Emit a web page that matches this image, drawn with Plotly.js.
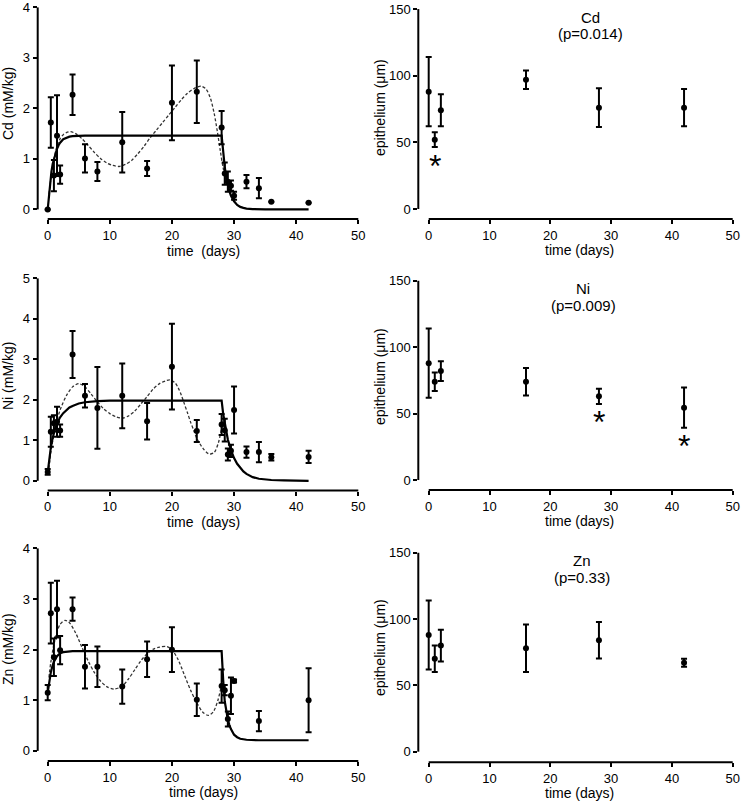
<!DOCTYPE html>
<html><head><meta charset="utf-8">
<script src="https://cdn.plot.ly/plotly-3.0.1.min.js"></script>
<style>html,body{margin:0;padding:0;background:#fff}#chart{width:742px;height:801px}</style>
</head><body><div id="chart"></div>
<script>
// ---------- data: tissue metal concentration (mM/kg) ----------
const cdT   = [0, 0.5, 1, 1.5, 2, 4, 6, 8, 12, 16, 20, 24, 28, 28.5, 29, 29.5, 30, 32, 34, 36, 42];
const cdVal = [0, 1.72, 0.67, 1.46, 0.69, 2.27, 1.01, 0.75, 1.33, 0.81, 2.11, 2.33, 1.62, 0.71, 0.55, 0.47, 0.27, 0.55, 0.42, 0.15, 0.13];
const cdErr = [0, 0.5, 0.31, 0.8, 0.18, 0.4, 0.28, 0.19, 0.6, 0.15, 0.74, 0.62, 0.33, 0.22, 0.2, 0.1, 0.08, 0.13, 0.2, 0, 0];
const cdFitT = [0, 0.2, 0.4, 0.6, 0.8, 1, 1.25, 1.5, 1.75, 2, 2.5, 3, 3.5, 4, 5, 6, 28, 28.15, 28.3, 28.5, 28.75, 29, 29.25, 29.5, 29.75, 30, 30.5, 31, 31.5, 32, 33, 35, 42];
const cdFitY = [0, 0.31, 0.56, 0.75, 0.9, 1.0, 1.11, 1.2, 1.27, 1.32, 1.39, 1.42, 1.44, 1.45, 1.46, 1.46, 1.46, 1.25, 1.06, 0.84, 0.63, 0.47, 0.36, 0.27, 0.21, 0.16, 0.09, 0.05, 0.03, 0.015, 0.005, 0, 0];
const cdDashT = [0.2, 0.5, 1, 1.5, 2, 2.5, 3, 3.7, 4.5, 5.5, 6.5, 7.5, 8.5, 9.5, 10.5, 11.5, 12.5, 13.5, 14.5, 15.5, 16.5, 17.5, 18.5, 19.5, 20.5, 21.5, 22.5, 23.5, 24.7, 25.5, 26.2, 26.8, 27.3, 27.8, 28.2, 28.6, 29];
const cdDashY = [0.3, 0.6, 1.0, 1.25, 1.4, 1.48, 1.52, 1.54, 1.5, 1.4, 1.27, 1.13, 1.01, 0.92, 0.87, 0.85, 0.89, 0.97, 1.1, 1.25, 1.42, 1.57, 1.72, 1.87, 2.02, 2.17, 2.3, 2.39, 2.44, 2.38, 2.2, 1.9, 1.55, 1.15, 0.85, 0.62, 0.48];

const niT   = [0, 0.5, 1, 1.5, 2, 4, 6, 8, 12, 16, 20, 24, 28, 28.5, 29, 29.5, 30, 32, 34, 36, 42];
const niVal = [0.22, 1.21, 1.42, 1.46, 1.24, 3.12, 2.1, 1.8, 2.1, 1.47, 2.82, 1.23, 1.39, 1.25, 0.65, 0.74, 1.75, 0.71, 0.71, 0.58, 0.59];
const niErr = [0.07, 0.37, 0.2, 0.37, 0.15, 0.58, 0.29, 1.01, 0.8, 0.45, 1.06, 0.27, 0.26, 0.28, 0.15, 0.15, 0.58, 0.14, 0.25, 0.08, 0.15];
const niFitT = [0, 0.25, 0.5, 0.75, 1, 1.5, 2, 2.5, 3, 3.5, 4, 5, 6, 7, 8, 10, 28, 28.25, 28.5, 28.75, 29, 29.5, 30, 30.5, 31, 31.5, 32, 33, 34, 35, 36, 38, 42];
const niFitY = [0.2, 0.55, 0.82, 1.02, 1.18, 1.42, 1.57, 1.67, 1.75, 1.81, 1.85, 1.91, 1.94, 1.96, 1.97, 1.98, 1.98, 1.65, 1.4, 1.2, 1.02, 0.76, 0.56, 0.42, 0.31, 0.23, 0.17, 0.09, 0.05, 0.03, 0.02, 0.01, 0];
const niDashT = [0.2, 0.5, 1, 1.5, 2, 3, 4, 5, 6, 7, 8, 9, 10, 11, 12, 13, 14, 15, 16, 17, 18, 19, 19.7, 20.5, 21, 21.5, 22, 22.5, 23, 23.5, 24, 25, 26, 26.8, 27.5, 28, 28.3];
const niDashY = [0.3, 0.7, 1.15, 1.5, 1.75, 2.1, 2.32, 2.4, 2.32, 2.14, 1.95, 1.78, 1.66, 1.58, 1.55, 1.6, 1.72, 1.9, 2.08, 2.27, 2.4, 2.47, 2.49, 2.42, 2.3, 2.12, 1.9, 1.68, 1.45, 1.25, 1.05, 0.8, 0.66, 0.7, 0.95, 1.3, 1.5];

const znT   = [0, 0.5, 1, 1.5, 2, 4, 6, 8, 12, 16, 20, 24, 28, 28.5, 29, 29.5, 30, 34, 42];
const znVal = [1.15, 2.72, 1.85, 2.8, 1.99, 2.8, 1.66, 1.66, 1.27, 1.81, 2.0, 1.01, 1.28, 1.2, 0.63, 1.09, 1.38, 0.59, 1.0];
const znErr = [0.15, 0.6, 0.37, 0.56, 0.28, 0.23, 0.43, 0.4, 0.34, 0.35, 0.44, 0.32, 0.33, 0.1, 0.15, 0.36, 0.03, 0.2, 0.63];
const znFitT = [0, 0.25, 0.5, 0.75, 1, 1.5, 2, 2.5, 3, 4, 28, 28.1, 28.25, 28.5, 28.75, 29, 29.25, 29.5, 30, 30.5, 31, 32, 34, 42];
const znFitY = [1.15, 1.38, 1.55, 1.67, 1.76, 1.87, 1.93, 1.95, 1.96, 1.97, 1.97, 1.7, 1.4, 0.98, 0.78, 0.62, 0.51, 0.43, 0.32, 0.27, 0.24, 0.22, 0.21, 0.21];
const znDashT = [0.2, 0.5, 1, 1.5, 2, 2.8, 3.5, 4.5, 5.5, 6.5, 7.5, 8.5, 9.5, 10.7, 12, 13, 14, 15, 16, 17, 18, 19.2, 20, 21, 22, 23, 24, 25, 25.9, 26.7, 27.4, 28, 28.3];
const znDashY = [1.45, 1.75, 2.1, 2.35, 2.5, 2.58, 2.53, 2.33, 2.05, 1.78, 1.55, 1.38, 1.27, 1.22, 1.28, 1.42, 1.6, 1.78, 1.92, 2.01, 2.05, 2.06, 2.0, 1.8, 1.5, 1.2, 0.95, 0.76, 0.7, 0.78, 1.0, 1.3, 1.45];

// ---------- data: epithelium thickness (µm) ----------
const epiT = [0, 1, 2, 16, 28, 42];
const epiCd = [88, 52, 74, 97, 76, 76];
const epiCdErr = [26, 5.5, 12, 7, 14.5, 14];
const epiNi = [88, 74, 82, 74, 63, 54.5];
const epiNiErr = [26, 7, 7.5, 10.3, 5.7, 15.2];
const epiZn = [88, 70, 80, 78, 84, 67];
const epiZnErr = [26, 10, 12, 18, 13.8, 3];

const starCdX = [1], starCdY = [38];
const starNiX = [28, 42], starNiY = [49.7, 31.4];

const metalNames = ['Cd', 'Ni', 'Zn'];
const pLabels = ['(p=0.014)', '(p=0.009)', '(p=0.33)'];
const leftYTitles = ['Cd (mM/kg)', 'Ni (mM/kg)', 'Zn (mM/kg)'];
const leftXTitles = ['time\u00a0 (days)', 'time\u00a0 (days)', 'time (days)'];
const rightXTitle = 'time (days)';
const rightYTitle = 'epithelium (\u03bcm)';
const leftYMax = [4, 5, 4];

// ---------- layout geometry (pixels) ----------
const W = 742, H = 801;
const FONT = 'Liberation Sans, Arial, sans-serif';
const leftXDom = [37.7 / W, 358.3 / W], rightXDom = [418.3 / W, 732.7 / W];
const leftXR = [-1.61, 50.001], rightXR = [-1.71, 50.001];
const rows = [
  {lt: 7.3, lb: 219, rt: 9, rb: 219, lymin: -0.19, rymin: -7.5, lxt: 251, rxt: 250, lyc: 104, ryc: 108, pTitle: 590},
  {lt: 278.3, lb: 490.5, rt: 280.7, rb: 490, lymin: -0.24, rymin: -7.5, lxt: 522, rxt: 521, lyc: 376, ryc: 377, pTitle: 583},
  {lt: 548.3, lb: 761, rt: 552.7, rb: 762.3, lymin: -0.2, rymin: -8, lxt: 792, rxt: 793, lyc: 649, ryc: 648, pTitle: 582}
];

const layout = {
  width: W, height: H, margin: {l: 0, r: 0, t: 0, b: 0},
  paper_bgcolor: '#fff', plot_bgcolor: '#fff', showlegend: false,
  font: {family: FONT, size: 13, color: '#000'},
  shapes: [], annotations: []
};

function axCommon() {
  return {showgrid: false, zeroline: false, showline: false, ticks: 'outside', ticklen: 4, tickwidth: 2,
          tickcolor: '#000', tickfont: {family: FONT, size: 13, color: '#000'}, fixedrange: true,
          ticklabeloverflow: 'allow'};
}
function pmap(v, r, d) { return d[0] + (v - r[0]) / (r[1] - r[0]) * (d[1] - d[0]); }
function addAxisLines(xr, xd, yr, yd, ytop) {
  const yb = yd[0], xl = xd[0];
  layout.shapes.push({type: 'line', xref: 'paper', yref: 'paper', x0: pmap(0, xr, xd), x1: pmap(50, xr, xd), y0: yb, y1: yb, line: {color: '#000', width: 2}});
  layout.shapes.push({type: 'line', xref: 'paper', yref: 'paper', x0: xl, x1: xl, y0: pmap(0, yr, yd), y1: pmap(ytop, yr, yd), line: {color: '#000', width: 2}});
}
function textAt(px, py, txt, size, angle) {
  layout.annotations.push({xref: 'paper', yref: 'paper', x: px / W, y: 1 - py / H, text: txt, showarrow: false,
    xanchor: 'center', yanchor: 'middle', textangle: angle || 0, borderpad: 0,
    font: {family: FONT, size: size, color: '#000'}});
}

const traces = [];
const leftData = [
  {t: cdT, v: cdVal, e: cdErr, ft: cdFitT, fy: cdFitY, dt: cdDashT, dy: cdDashY},
  {t: niT, v: niVal, e: niErr, ft: niFitT, fy: niFitY, dt: niDashT, dy: niDashY},
  {t: znT, v: znVal, e: znErr, ft: znFitT, fy: znFitY, dt: znDashT, dy: znDashY}
];
const rightData = [
  {v: epiCd, e: epiCdErr, sx: starCdX, sy: starCdY},
  {v: epiNi, e: epiNiErr, sx: starNiX, sy: starNiY},
  {v: epiZn, e: epiZnErr, sx: [], sy: []}
];

rows.forEach((r, i) => {
  const lx = 'x' + (2 * i + 1), ly = 'y' + (2 * i + 1);
  const rx = 'x' + (2 * i + 2), ry = 'y' + (2 * i + 2);
  const lyd = [1 - r.lb / H, 1 - r.lt / H], ryd = [1 - r.rb / H, 1 - r.rt / H];
  const lyr = [r.lymin, leftYMax[i] * 1.0005], ryr = [r.rymin, 150.05];

  layout['xaxis' + (2 * i + 1)] = Object.assign(axCommon(), {domain: leftXDom, range: leftXR, anchor: ly, tick0: 0, dtick: 10});
  layout['yaxis' + (2 * i + 1)] = Object.assign(axCommon(), {domain: lyd, range: lyr, anchor: lx, tick0: 0, dtick: 1});
  layout['xaxis' + (2 * i + 2)] = Object.assign(axCommon(), {domain: rightXDom, range: rightXR, anchor: ry, tick0: 0, dtick: 10});
  layout['yaxis' + (2 * i + 2)] = Object.assign(axCommon(), {domain: ryd, range: ryr, anchor: rx, tick0: 0, dtick: 50});

  addAxisLines(leftXR, leftXDom, lyr, lyd, leftYMax[i]);
  addAxisLines(rightXR, rightXDom, ryr, ryd, 150);

  // axis titles
  textAt(203, r.lxt, leftXTitles[i], 14, 0);
  textAt(579, r.rxt, rightXTitle, 14, 0);
  textAt(8, r.lyc, leftYTitles[i], 14, -90);
  textAt(380, r.ryc, rightYTitle, 14, -90);
  // panel titles
  textAt(r.pTitle, r.rt + 8, metalNames[i], 15, 0);
  textAt(r.pTitle, r.rt + 24.5, pLabels[i], 15, 0);

  const d = leftData[i];
  traces.push({x: d.dt, y: d.dy, xaxis: lx, yaxis: ly, mode: 'lines', type: 'scatter',
    line: {color: '#333', width: 1.3, dash: '3px,2px', shape: 'spline', smoothing: 0.8}, hoverinfo: 'skip'});
  traces.push({x: d.ft, y: d.fy, xaxis: lx, yaxis: ly, mode: 'lines', type: 'scatter',
    line: {color: '#000', width: 2.2, shape: 'linear'}, hoverinfo: 'skip'});
  traces.push({x: d.t, y: d.v, xaxis: lx, yaxis: ly, mode: 'markers', type: 'scatter', cliponaxis: false,
    marker: {color: '#000', size: 6},
    error_y: {type: 'data', array: d.e, visible: true, color: '#000', thickness: 2, width: 3}});

  const rd = rightData[i];
  traces.push({x: epiT, y: rd.v, xaxis: rx, yaxis: ry, mode: 'markers', type: 'scatter', cliponaxis: false,
    marker: {color: '#000', size: 6},
    error_y: {type: 'data', array: rd.e, visible: true, color: '#000', thickness: 2, width: 3}});
  rd.sx.forEach((sx, k) => {
    layout.annotations.push({x: sx, y: rd.sy[k], xref: rx, yref: ry, text: '*', showarrow: false,
      font: {family: FONT, size: 32, color: '#000'}, yshift: -8});
  });
});

Plotly.newPlot('chart', traces, layout, {staticPlot: true, displayModeBar: false});
</script>
</body></html>
